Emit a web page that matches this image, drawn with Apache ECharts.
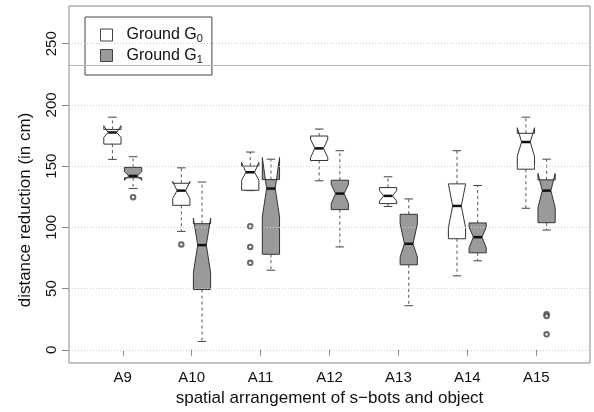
<!DOCTYPE html>
<html>
<head>
<meta charset="utf-8">
<script src="https://cdn.jsdelivr.net/npm/echarts@6/dist/echarts.min.js"></script>
<style>
  html, body { margin: 0; padding: 0; background: #fff; }
  #main { width: 594px; height: 412px; }
</style>
</head>
<body>
<div id="main"></div>
<script>
var categories = ["A9", "A10", "A11", "A12", "A13", "A14", "A15"];
// [lower whisker, Q1, median, Q3, upper whisker]
var g0Stats = [
  [155.5, 168, 177.5, 180, 190],
  [96.7, 118, 130, 136, 148.6],
  [130, 130.3, 145, 150, 161.5],
  [138, 154.6, 164.5, 174.6, 180.3],
  [117, 119.4, 125.7, 132.5, 141.3],
  [60.4, 90.7, 117.5, 135.5, 162.6],
  [115.6, 147.5, 169.7, 176.8, 190]
];
var g1Stats = [
  [131.7, 140.5, 142, 149, 157.7],
  [6.8, 49.2, 85.5, 103, 137],
  [65, 78, 131.7, 139, 155.7],
  [84, 114.5, 127.6, 138.5, 162.6],
  [36, 69.4, 86.6, 110.7, 123.2],
  [72.7, 79.2, 92, 103.6, 134.2],
  [97.8, 103.8, 130, 138.8, 155.7]
];
// notch [lower, upper]
var g0Notch = [[173.5, 183], [123.5, 137.5], [138.5, 153], [157, 172], [121.5, 130], [99.7, 135.3], [158.2, 181.4]];
var g1Notch = [[138.5, 145.5], [63, 107.5], [108.5, 157], [119.5, 135], [75.7, 103], [83.3, 100.3], [116, 144]];
// outliers [category index, value]
var g0Outliers = [[1, 86], [2, 101], [2, 84], [2, 71]];
var g1Outliers = [[0, 124.6], [6, 29], [6, 27.5], [6, 12.6]];
var yTicks = [0, 50, 100, 150, 200, 250];
var refLine = 232;

var offset = 0.15;
var halfW = 0.125;

function buildData(stats, notch, off) {
  return categories.map(function (c, i) {
    return [i + 1 + off].concat(stats[i], notch[i]);
  });
}

// R style notched box: notch drawn outside the hinges when it overshoots them
function renderBox(params, api) {
  var x = api.value(0);
  var low = api.value(1), q1 = api.value(2), med = api.value(3), q3 = api.value(4), high = api.value(5);
  var nlo = api.value(6), nhi = api.value(7);
  function p(dx, v) { return api.coord([x + dx, v]); }
  var style = api.style();
  var poly = [p(-halfW, q1), p(halfW, q1), p(halfW, nlo), p(halfW * 0.5, med), p(halfW, nhi),
    p(halfW, q3), p(-halfW, q3), p(-halfW, nhi), p(-halfW * 0.5, med), p(-halfW, nlo)];
  var dash = { stroke: "#555", lineWidth: 1, lineDash: [3, 3] };
  var solid = { stroke: "#444", lineWidth: 1 };
  var c = p(0, 0);
  return {
    type: "group",
    children: [
      { type: "line", shape: { x1: c[0], y1: p(0, q3)[1], x2: c[0], y2: p(0, high)[1] }, style: dash },
      { type: "line", shape: { x1: c[0], y1: p(0, q1)[1], x2: c[0], y2: p(0, low)[1] }, style: dash },
      { type: "line", shape: { x1: p(-halfW / 2, high)[0], y1: p(0, high)[1], x2: p(halfW / 2, high)[0], y2: p(0, high)[1] }, style: solid },
      { type: "line", shape: { x1: p(-halfW / 2, low)[0], y1: p(0, low)[1], x2: p(halfW / 2, low)[0], y2: p(0, low)[1] }, style: solid },
      { type: "polygon", shape: { points: poly }, style: { fill: style.fill, stroke: "#333", lineWidth: 1 } },
      { type: "line", shape: { x1: p(-halfW / 2, med)[0], y1: p(0, med)[1], x2: p(halfW / 2, med)[0], y2: p(0, med)[1] }, style: { stroke: "#111", lineWidth: 2.5 } }
    ]
  };
}

function outlierData(list, off) {
  return list.map(function (o) { return [o[0] + 1 + off, o[1]]; });
}

var font = "Liberation Sans, Arial, sans-serif";
var myChart = echarts.init(document.getElementById("main"));
var option = {
  animation: false,
  grid: { left: 69, top: 6, right: 4, bottom: 49, show: true, borderColor: "#888", borderWidth: 1, backgroundColor: "transparent" },
  legend: {
    orient: "vertical",
    left: 85,
    top: 17,
    padding: [10, 9, 10, 15],
    itemGap: 3,
    itemWidth: 12,
    itemHeight: 12,
    backgroundColor: "#fff",
    borderColor: "#444",
    borderWidth: 1,
    borderRadius: 0,
    selectedMode: false,
    icon: "rect",
    data: [
      { name: "Ground G0", itemStyle: { color: "#fff", borderColor: "#444", borderWidth: 1 } },
      { name: "Ground G1", itemStyle: { color: "#9a9a9a", borderColor: "#444", borderWidth: 1 } }
    ],
    formatter: function (n) {
      return "{t|" + n.slice(0, -1) + "}{s|" + n.slice(-1) + "}";
    },
    textStyle: {
      padding: [0, 0, 0, 9],
      rich: {
        t: { fontSize: 16, fontFamily: font, color: "#111" },
        s: { fontSize: 11, fontFamily: font, color: "#111", padding: [8, 0, 0, 0] }
      }
    }
  },
  xAxis: {
    type: "value",
    min: 0.22,
    max: 7.78,
    name: "spatial arrangement of s\u2212bots and object",
    nameLocation: "middle",
    nameGap: 22,
    nameTextStyle: { fontSize: 17, fontFamily: font, color: "#111" },
    axisLine: { show: false },
    splitLine: { show: false },
    axisTick: { show: true, length: 6, customValues: [1, 2, 3, 4, 5, 6, 7], lineStyle: { color: "#888" } },
    axisLabel: {
      customValues: [1, 2, 3, 4, 5, 6, 7],
      margin: 7,
      fontSize: 15,
      fontFamily: font,
      color: "#111",
      formatter: function (v) { return categories[Math.round(v) - 1] || ""; }
    }
  },
  yAxis: {
    type: "value",
    min: -10.8,
    max: 280.8,
    axisLine: { show: false },
    splitLine: { show: false },
    axisTick: { show: true, length: 7, customValues: yTicks, lineStyle: { color: "#888" } },
    axisLabel: {
      customValues: yTicks,
      rotate: 90,
      margin: 10,
      fontSize: 15,
      fontFamily: font,
      color: "#111"
    }
  },
  graphic: [
    {
      type: "text",
      x: 25,
      y: 210,
      rotation: Math.PI / 2,
      style: { text: "distance reduction (in cm)", align: "center", verticalAlign: "middle", fontSize: 17, fontFamily: font, fill: "#111" }
    }
  ],
  series: [
    {
      type: "line",
      data: [],
      z: 1,
      silent: true,
      markLine: {
        symbol: "none",
        silent: true,
        label: { show: false },
        data: yTicks.map(function (t) {
          return { yAxis: t, lineStyle: { color: "#d0d0d0", type: [1, 2], width: 1 } };
        }).concat([{ yAxis: refLine, lineStyle: { color: "#b4b4b4", type: "solid", width: 1 } }])
      }
    },
    {
      name: "Ground G0",
      type: "custom",
      z: 3,
      itemStyle: { color: "#fff" },
      renderItem: renderBox,
      encode: { x: 0, y: [1, 2, 3, 4, 5] },
      data: buildData(g0Stats, g0Notch, -offset)
    },
    {
      name: "Ground G1",
      type: "custom",
      z: 3,
      itemStyle: { color: "#9a9a9a" },
      renderItem: renderBox,
      encode: { x: 0, y: [1, 2, 3, 4, 5] },
      data: buildData(g1Stats, g1Notch, offset)
    },
    {
      type: "scatter",
      z: 3,
      symbol: "emptyCircle",
      symbolSize: 4.5,
      itemStyle: { color: "#444", borderWidth: 1 },
      data: outlierData(g0Outliers, -offset).concat(outlierData(g1Outliers, offset))
    }
  ]
};
myChart.setOption(option);
</script>
</body>
</html>
